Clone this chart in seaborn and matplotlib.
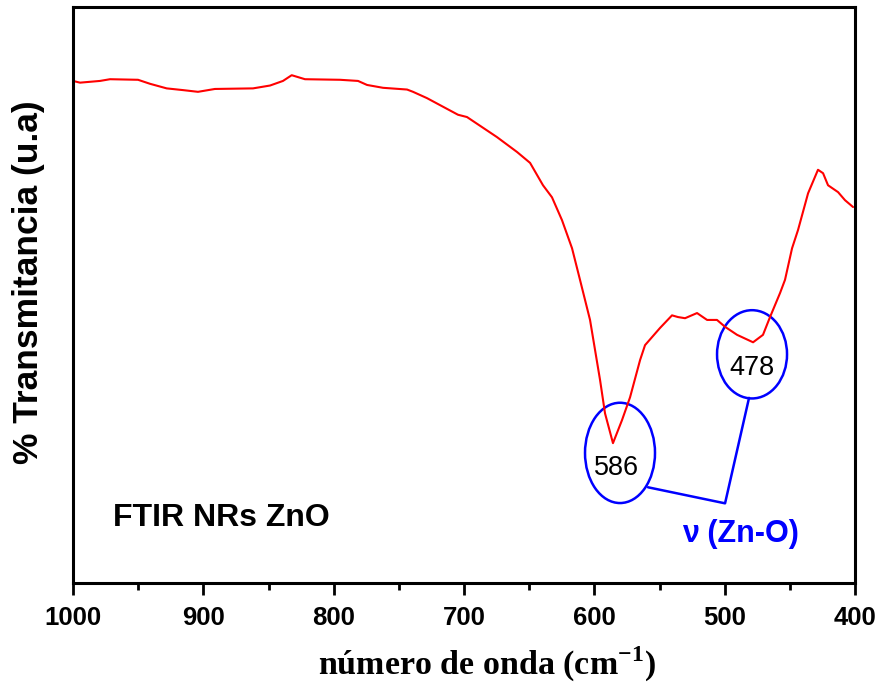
import matplotlib
matplotlib.use("Agg")
import matplotlib.pyplot as plt
from matplotlib.patches import Ellipse
from matplotlib.ticker import MultipleLocator
import seaborn as sns
import pandas as pd

# ---- data ----
wavenumber = [1000.0, 994.6, 979.3, 971.6, 950.1, 940.9, 928.1, 915.6, 904.1, 891.1,
              861.9, 848.8, 838.9, 832.2, 822.0, 795.1, 781.3, 774.4, 762.1, 743.7,
              739.1, 728.4, 716.1, 704.6, 697.7, 674.7, 659.3, 649.3, 639.4, 632.5,
              624.8, 617.1, 611.0, 603.3, 595.6, 591.8, 585.7, 578.8, 572.6, 564.9,
              561.1, 549.6, 540.4, 535.8, 530.4, 521.2, 513.5, 505.9, 499.7, 490.5,
              478.2, 470.6, 465.2, 457.5, 453.7, 448.3, 443.7, 436.0, 428.4, 424.5,
              420.7, 413.0, 407.7, 401.5]
transmittance = [87.1, 86.8, 87.1, 87.4, 87.3, 86.6, 85.8, 85.5, 85.2, 85.7,
                 85.8, 86.3, 87.1, 88.1, 87.4, 87.3, 87.1, 86.4, 85.9, 85.6,
                 85.2, 84.1, 82.6, 81.2, 80.8, 77.3, 74.7, 72.8, 68.9, 66.8,
                 62.8, 57.9, 52.4, 45.4, 34.9, 29.1, 23.9, 27.9, 31.9, 38.4,
                 41.0, 44.0, 46.2, 45.9, 45.7, 46.6, 45.4, 45.4, 44.2, 42.8,
                 41.5, 42.8, 45.9, 50.1, 52.4, 57.9, 61.1, 67.5, 71.6, 71.0,
                 68.9, 67.7, 66.3, 65.1]
peak_labels = ["586", "478"]
peak_x = [580.3, 479.0]
peak_y = [22.2, 39.4]
xticks = [1000, 900, 800, 700, 600, 500, 400]

df = pd.DataFrame({"wn": wavenumber, "T": transmittance})

sns.set_style("ticks")
plt.rcParams["font.family"] = ["Liberation Sans", "DejaVu Sans"]
plt.rcParams["text.color"] = "black"
plt.rcParams["axes.labelcolor"] = "black"
plt.rcParams["xtick.color"] = "black"
plt.rcParams["ytick.color"] = "black"
plt.rcParams["mathtext.fontset"] = "custom"
plt.rcParams["mathtext.rm"] = "Liberation Serif:bold"
plt.rcParams["mathtext.bf"] = "Liberation Serif:bold"

fig = plt.figure(figsize=(8.83, 6.91), dpi=100)
ax = fig.add_axes([73 / 883, 1 - 583 / 691, (855 - 73) / 883, (583 - 7) / 691])

sns.lineplot(data=df, x="wn", y="T", ax=ax, color="#ff0000", linewidth=1.5, sort=False)

ax.set_xlim(1000, 400)
ax.set_ylim(-0.5, 100)
ax.set_xticks(xticks)
ax.xaxis.set_minor_locator(MultipleLocator(50))
ax.set_yticks([])
ax.tick_params(axis="x", which="major", direction="out", length=8.5, width=2.0,
               pad=8, labelsize=18.5, color="black", labelcolor="black")
ax.tick_params(axis="x", which="minor", direction="out", length=5, width=2.0, color="black")
for lbl in ax.get_xticklabels():
    lbl.set_fontweight("bold")
for sp in ax.spines.values():
    sp.set_visible(True)
    sp.set_linewidth(2.2)
    sp.set_color("black")

ax.set_xlabel("número de onda (cm$^{-1}$)", fontsize=24.5, fontweight="bold",
              family="Liberation Serif", color="black")
ax.xaxis.set_label_coords(0.529, -0.107)
ax.set_ylabel("% Transmitancia (u.a)", fontsize=25.5, fontweight="bold", color="black")
ax.yaxis.set_label_coords(-0.036, 0.5226)

# annotations
ell_w = [53.7, 53.7]
ell_h = [17.5, 15.4]
ell_c = [(580.3, 22.2), (479.0, 39.4)]
for (cx, cy), w, h in zip(ell_c, ell_w, ell_h):
    ax.add_patch(Ellipse((cx, cy), w, h, fill=False, edgecolor="#0000ff", linewidth=1.8))
for lab, x, y in zip(peak_labels, [582.6, 479.0], [19.5, 37.0]):
    ax.text(x, y, lab, fontsize=19.5, ha="center", va="center", color="black")

ax.plot([558.8, 499.7, 481.3], [16.2, 13.4, 31.8], color="#0000ff", linewidth=1.8)
ax.text(488, 8.0, "ν (Zn-O)", fontsize=22, fontweight="bold", color="#0000ff",
        ha="center", va="center", family=["Liberation Sans", "DejaVu Sans"])
ax.text(969.3, 10.8, "FTIR NRs ZnO", fontsize=23, fontweight="bold", color="black",
        ha="left", va="center")

fig.savefig("out.png", dpi=100)
